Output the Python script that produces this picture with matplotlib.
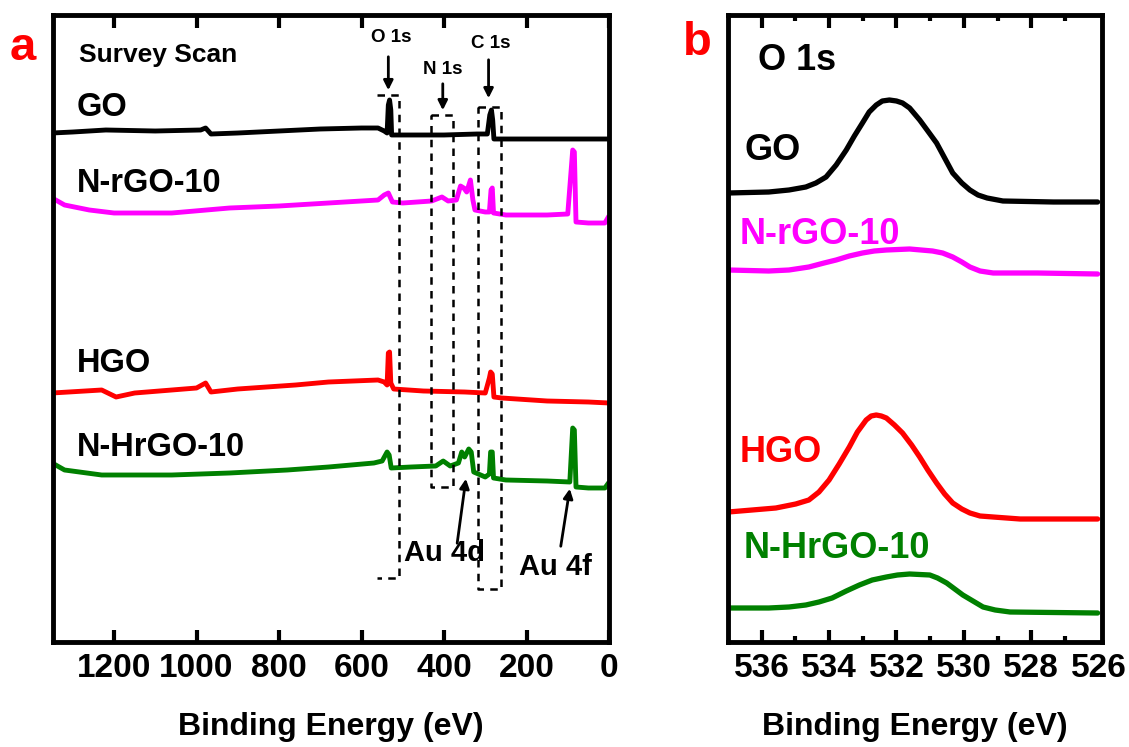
import numpy as np
import matplotlib
matplotlib.use("Agg")
import matplotlib.pyplot as plt

plt.rcParams['font.family'] = ['Liberation Sans', 'DejaVu Sans']
plt.rcParams['font.weight'] = 'bold'

# ---- panel a: survey scan (binding energy in eV, intensity in arb. units) ----
go_e = [1350, 1300, 1220, 1100, 990, 978, 965, 900, 800, 700, 600, 560, 545, 538,
        535, 532, 529, 527, 515, 450, 400, 320, 295, 289, 285, 282, 279, 200, 100, 0]
go_i = [509, 510, 512, 511, 512, 514, 508, 509, 511, 513, 514, 514, 511, 509,
        537, 542, 532, 507, 507, 507, 507, 508, 508, 527, 532, 522, 503, 503, 503, 503]

nrgo_e = [1350, 1320, 1260, 1200, 1060, 920, 800, 680, 560, 545, 535, 525, 500, 430,
          405, 390, 370, 360, 352, 345, 336, 330, 325, 300, 290, 286, 283, 280, 250,
          150, 100, 88, 84, 80, 50, 10, 3]
nrgo_i = [444, 437, 432, 429, 429, 434, 436, 439, 442, 447, 449, 440, 439, 441,
          445, 441, 442, 456, 454, 450, 462, 442, 432, 430, 430, 452, 454, 429, 427,
          427, 428, 492, 490, 420, 419, 419, 424]

hgo_e = [1350, 1230, 1195, 1150, 1000, 978, 965, 900, 760, 680, 560, 545, 538, 535,
         532, 529, 522, 450, 350, 300, 290, 287, 283, 279, 260, 150, 50, 0]
hgo_i = [249, 252, 245, 249, 254, 259, 250, 253, 257, 260, 262, 260, 257, 289,
         290, 259, 253, 251, 250, 249, 264, 270, 268, 245, 244, 241, 240, 239]

nhrgo_e = [1350, 1320, 1230, 1060, 920, 780, 680, 570, 550, 538, 533, 528, 480, 420,
           402, 385, 365, 357, 350, 340, 334, 328, 300, 290, 287, 283, 280, 250, 150,
           95, 88, 84, 80, 50, 10, 3]
nhrgo_i = [179, 172, 167, 167, 169, 172, 175, 179, 181, 190, 187, 174, 175, 176,
           181, 176, 179, 190, 185, 193, 190, 170, 165, 168, 190, 190, 164, 162, 161,
           160, 214, 212, 155, 154, 154, 158]

# ---- panel b: O 1s high resolution ----
o1s_go_e = [536.99, 536.39, 535.79, 535.19, 534.69, 534.39, 534.09, 533.79, 533.49,
            533.25, 533.01, 532.81, 532.60, 532.42, 532.21, 532.00, 531.82, 531.61,
            531.31, 531.07, 530.81, 530.57, 530.33, 530.06, 529.82, 529.58, 529.31,
            528.84, 527.34, 526.03]
o1s_go_i = [449, 449.5, 450, 452, 455, 459, 465, 477, 492, 506, 519, 530, 537, 541,
            542, 541, 539, 534, 522, 511, 499, 484, 469, 459, 452, 447, 444, 441, 440, 440]

o1s_nrgo_e = [536.99, 535.79, 535.19, 534.60, 534.15, 533.79, 533.40, 533.01, 532.66,
              532.30, 531.61, 530.93, 530.63, 530.33, 530.06, 529.82, 529.52, 529.13,
              527.82, 526.03]
o1s_nrgo_i = [372, 371, 372, 375, 379, 382, 386, 389, 391, 392, 393, 391, 389, 385,
              380, 375, 371, 369, 369, 368]

o1s_hgo_e = [536.99, 535.58, 534.99, 534.60, 534.30, 534.00, 533.70, 533.40, 533.16,
             532.90, 532.75, 532.60, 532.45, 532.30, 532.06, 531.82, 531.55, 531.31,
             531.07, 530.81, 530.57, 530.33, 530.06, 529.82, 529.52, 529.13, 528.33,
             526.03]
o1s_hgo_i = [130, 134, 138, 142, 150, 162, 178, 195, 210, 222, 226, 227, 226, 224,
             217, 209, 197, 185, 172, 159, 148, 139, 133, 129, 126, 125, 123, 123]

o1s_nhrgo_e = [536.99, 535.79, 535.19, 534.69, 534.30, 533.91, 533.49, 533.10, 532.72,
               532.30, 531.97, 531.61, 531.01, 530.78, 530.51, 530.27, 530.03, 529.73,
               529.43, 529.07, 528.63, 526.03]
o1s_nhrgo_i = [34, 34, 35, 37, 40, 44, 51, 57, 62, 65, 67, 68, 67, 64, 59, 53, 47, 41,
               35, 32, 30, 29]

names = ['GO', 'N-rGO-10', 'HGO', 'N-HrGO-10']
colors = ['#000000', '#ff00ff', '#ff0000', '#008000']

survey = [(go_e, go_i), (nrgo_e, nrgo_i), (hgo_e, hgo_i), (nhrgo_e, nhrgo_i)]
o1s = [(o1s_go_e, o1s_go_i), (o1s_nrgo_e, o1s_nrgo_i),
       (o1s_hgo_e, o1s_hgo_i), (o1s_nhrgo_e, o1s_nhrgo_i)]

W, H = 1129, 747
fig = plt.figure(figsize=(W / 100, H / 100), dpi=100)
ax1 = fig.add_axes([53 / W, 1 - 642 / H, 556 / W, 627 / H])
ax2 = fig.add_axes([728 / W, 1 - 642 / H, 374 / W, 627 / H])


def style(ax):
    for s in ax.spines.values():
        s.set_linewidth(3.5)
    ax.tick_params(axis='x', which='both', direction='in', top=True, bottom=True,
                   labelsize=24, pad=8, width=3, color='black')
    ax.tick_params(axis='x', which='major', length=9)
    ax.tick_params(axis='x', which='minor', length=4.5)
    ax.set_yticks([])
    ax.set_ylim(0, 627)
    ax.set_xlabel('Binding Energy (eV)', fontsize=23, fontweight='bold', labelpad=20)
    for lab in ax.get_xticklabels():
        lab.set_fontweight('bold')


# panel a
for (e, i), c in zip(survey, colors):
    ax1.plot(e, i, color=c, lw=3.5, solid_joinstyle='round')
ax1.set_xlim(1348, 0)
ax1.set_xticks([1200, 1000, 800, 600, 400, 200, 0])
style(ax1)

dash = dict(color='black', lw=1.8, ls=(0, (3, 2.5)))
# O 1s box (left side not drawn in the original)
ax1.plot([562, 509, 509, 562], [547, 547, 64, 64], **dash)
# N 1s box
ax1.plot([432, 379, 379, 432, 432], [527, 527, 155, 155, 527], **dash)
# C 1s box
ax1.plot([318, 263, 263, 318, 318], [535, 535, 53, 53, 535], **dash)

arrow = dict(arrowstyle='-|>', color='black', lw=2, mutation_scale=14)
ax1.annotate('', xy=(535, 549), xytext=(535, 588), arrowprops=arrow)
ax1.annotate('', xy=(403, 529), xytext=(403, 561), arrowprops=arrow)
ax1.annotate('', xy=(292, 541), xytext=(292, 585), arrowprops=arrow)
ax1.annotate('', xy=(346, 166), xytext=(369, 96), arrowprops=arrow)
ax1.annotate('', xy=(94, 156), xytext=(118, 93), arrowprops=arrow)

ax1.text(527, 605, 'O 1s', fontsize=13.5, ha='center', va='center')
ax1.text(404, 572, 'N 1s', fontsize=13.5, ha='center', va='center')
ax1.text(286, 599, 'C 1s', fontsize=13.5, ha='center', va='center')
ax1.text(1285, 587, 'Survey Scan', fontsize=19, ha='left', va='center')
ax1.text(497, 89, 'Au 4d', fontsize=21, ha='left', va='center')
ax1.text(219, 75, 'Au 4f', fontsize=21, ha='left', va='center')
for name, y in zip(names, [535, 459, 279, 194]):
    ax1.text(1290, y, name, fontsize=23.5, ha='left', va='center', color='black')

# panel b
for (e, i), c in zip(o1s, colors):
    ax2.plot(e, i, color=c, lw=3.8, solid_joinstyle='round', solid_capstyle='round')
ax2.set_xlim(537, 525.9)
ax2.set_xticks([536, 534, 532, 530, 528, 526])
ax2.set_xticks([535, 533, 531, 529, 527], minor=True)
style(ax2)
# the 526 tick sits on the right frame in the original, so only its label shows
last = ax2.xaxis.get_major_ticks()[-1]
last.tick1line.set_visible(False)
last.tick2line.set_visible(False)
ax2.text(536.1, 581, 'O 1s', fontsize=26, ha='left', va='center')
for name, c, (x, y) in zip(names, colors, [(536.5, 492), (536.65, 407),
                                           (536.65, 190), (536.55, 93)]):
    ax2.text(x, y, name, fontsize=26, ha='left', va='center', color=c)

fig.text(23 / W, 1 - 48 / H, 'a', color='#ff0000', fontsize=34, ha='center', va='center')
fig.text(697 / W, 1 - 43 / H, 'b', color='#ff0000', fontsize=34, ha='center', va='center')

fig.savefig('out.png', dpi=100)
